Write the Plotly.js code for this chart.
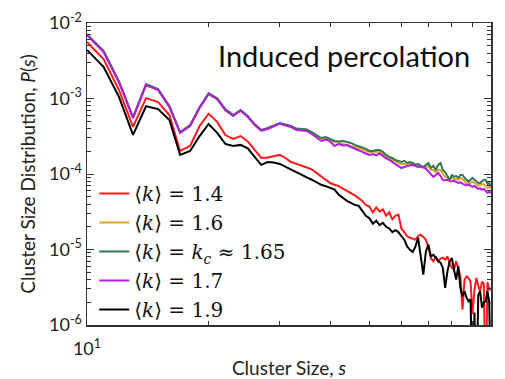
<!DOCTYPE html>
<html>
<head>
<meta charset="utf-8">
<script src="https://cdn.plot.ly/plotly-3.0.1.min.js"></script>
<style>html,body{margin:0;padding:0;background:#fff;}#chart{width:505px;height:379px;}</style>
</head>
<body>
<div id="chart"></div>
<script>
// Cluster sizes s
const clusterSize = [10,11,12,13,14,15,16,17,18,19,20,21,22,23,24,25,26,27,28,29,30,31,32,33,34,35,36,37,38,39,40,41,42,43,44,45,46,47,48,49,50,51,52,53,54,55,56,57,58,59,60,61,62,63,64,65,66,67,68,69,70,71,72,73,74,75,76,77,78,79,80,81,82,83,84,85,86,87,88,89,90,91,92,93,94,95,96,97,98,99,100];

// P(s) for <k> = 1.4
const pK14 = [5.6e-3,3.3e-3,1.29e-3,4.2e-4,1.01e-3,8.96e-4,6.0e-4,2.02e-4,2.35e-4,4.32e-4,
  6.3e-4,4.9e-4,3.28e-4,2.91e-4,3.18e-4,2.7e-4,2.08e-4,1.63e-4,1.65e-4,1.70e-4,
  1.79e-4,1.63e-4,1.44e-4,1.36e-4,1.30e-4,1.22e-4,1.15e-4,1.03e-4,9.4e-5,8.4e-5,
  7.6e-5,7.2e-5,6.9e-5,6.4e-5,6.0e-5,5.6e-5,5.2e-5,4.8e-5,4.4e-5,3.9e-5,
  3.7e-5,3.1e-5,3.6e-5,3.2e-5,3.4e-5,2.8e-5,3.1e-5,2.5e-5,2.8e-5,2.9e-5,
  1.9e-5,1.7e-5,1.5e-5,1.43e-5,1.39e-5,1.35e-5,1.5e-5,1.57e-5,1.47e-5,1.35e-5,
  1.06e-5,7.6e-6,7.0e-6,8.1e-6,7.0e-6,7.6e-6,7.8e-6,7.3e-6,8.1e-6,6.5e-6,
  5.75e-6,5.4e-6,7.0e-6,5.4e-6,4.4e-6,1.6e-6,4.0e-6,4.4e-6,4.2e-6,3.75e-6,
  1.4e-6,2.9e-6,4.2e-6,3.3e-6,2.8e-6,3.75e-6,3.5e-6,1e-7,3.7e-6,2.9e-6,
  3.1e-6];

// P(s) for <k> = 1.6
const pK16 = [7.0e-3,4.16e-3,1.67e-3,5.6e-4,1.53e-3,1.31e-3,7.8e-4,3.55e-4,4.39e-4,7.58e-4,
  1.16e-3,9.97e-4,7.14e-4,5.94e-4,6.92e-4,5.76e-4,4.52e-4,3.76e-4,4.0e-4,4.32e-4,
  4.66e-4,4.46e-4,4.25e-4,3.94e-4,3.94e-4,3.83e-4,3.5e-4,3.18e-4,2.95e-4,3.0e-4,
  2.82e-4,2.66e-4,2.58e-4,2.50e-4,2.43e-4,2.35e-4,2.28e-4,2.21e-4,2.11e-4,2.02e-4,
  1.96e-4,1.96e-4,1.99e-4,1.96e-4,1.84e-4,1.74e-4,1.63e-4,1.53e-4,1.49e-4,1.40e-4,
  1.36e-4,1.36e-4,1.32e-4,1.36e-4,1.32e-4,1.28e-4,1.28e-4,1.24e-4,1.20e-4,1.24e-4,
  1.28e-4,1.13e-4,1.13e-4,1.06e-4,1.13e-4,1.13e-4,1.0e-4,9.2e-5,8.9e-5,8.4e-5,
  8.9e-5,8.6e-5,8.6e-5,8.4e-5,8.9e-5,8.4e-5,8.1e-5,7.4e-5,7.2e-5,7.6e-5,
  7.9e-5,7.6e-5,7.2e-5,7.0e-5,7.2e-5,7.4e-5,7.2e-5,7.0e-5,6.55e-5,6.75e-5,
  6.4e-5];

// P(s) for <k> = k_c ~ 1.65
const pKc = [7.1e-3,4.23e-3,1.69e-3,5.68e-4,1.55e-3,1.33e-3,7.94e-4,3.6e-4,4.46e-4,7.7e-4,
  1.18e-3,1.01e-3,7.25e-4,6.03e-4,7.03e-4,5.85e-4,4.59e-4,3.83e-4,4.07e-4,4.39e-4,
  4.73e-4,4.52e-4,4.32e-4,4.0e-4,3.94e-4,3.88e-4,3.6e-4,3.28e-4,3.0e-4,3.09e-4,
  2.91e-4,2.74e-4,2.70e-4,2.74e-4,2.66e-4,2.58e-4,2.43e-4,2.35e-4,2.24e-4,2.15e-4,
  2.02e-4,2.02e-4,2.08e-4,2.08e-4,1.96e-4,1.79e-4,1.68e-4,1.63e-4,1.53e-4,1.49e-4,
  1.44e-4,1.49e-4,1.40e-4,1.44e-4,1.40e-4,1.32e-4,1.36e-4,1.28e-4,1.24e-4,1.32e-4,
  1.40e-4,1.20e-4,1.28e-4,1.13e-4,1.32e-4,1.40e-4,1.13e-4,1.06e-4,9.4e-5,8.4e-5,
  9.7e-5,9.2e-5,9.4e-5,8.9e-5,9.7e-5,9.7e-5,8.9e-5,8.4e-5,7.9e-5,8.4e-5,
  8.9e-5,8.4e-5,7.9e-5,7.6e-5,7.6e-5,8.1e-5,8.4e-5,8.4e-5,7.4e-5,7.6e-5,
  6.9e-5];

// P(s) for <k> = 1.7
const pK17 = [6.9e-3,4.1e-3,1.64e-3,5.5e-4,1.5e-3,1.29e-3,7.7e-4,3.5e-4,4.3e-4,7.5e-4,
  1.14e-3,9.8e-4,7.0e-4,5.85e-4,6.9e-4,5.7e-4,4.45e-4,3.74e-4,3.94e-4,4.32e-4,
  4.66e-4,4.39e-4,4.19e-4,3.83e-4,3.76e-4,3.71e-4,3.39e-4,3.0e-4,2.74e-4,2.87e-4,
  2.68e-4,2.35e-4,2.50e-4,2.39e-4,2.42e-4,2.28e-4,2.15e-4,2.05e-4,1.96e-4,1.87e-4,
  1.79e-4,1.84e-4,1.76e-4,1.87e-4,1.73e-4,1.61e-4,1.54e-4,1.44e-4,1.36e-4,1.28e-4,
  1.20e-4,1.24e-4,1.28e-4,1.30e-4,1.32e-4,1.28e-4,1.24e-4,1.26e-4,1.24e-4,1.17e-4,
  1.07e-4,9.7e-5,9.16e-5,9.7e-5,1.03e-4,9.4e-5,8.36e-5,8.23e-5,8.36e-5,8.11e-5,
  7.98e-5,8.11e-5,7.87e-5,7.63e-5,7.75e-5,7.40e-5,7.18e-5,7.07e-5,7.29e-5,6.96e-5,
  6.75e-5,6.96e-5,6.55e-5,6.36e-5,6.45e-5,6.17e-5,6.36e-5,5.98e-5,5.63e-5,5.80e-5,
  5.63e-5];

// P(s) for <k> = 1.9
const pK19 = [4.4e-3,2.6e-3,1.05e-3,3.3e-4,7.9e-4,7.25e-4,5.2e-4,1.79e-4,2.02e-4,3.18e-4,
  4.6e-4,3.5e-4,2.5e-4,2.35e-4,2.43e-4,2.19e-4,1.68e-4,1.32e-4,1.44e-4,1.42e-4,
  1.36e-4,1.24e-4,1.13e-4,1.05e-4,9.7e-5,9.0e-5,8.4e-5,7.75e-5,7.2e-5,6.9e-5,
  6.55e-5,6.2e-5,5.3e-5,4.8e-5,4.4e-5,4.15e-5,3.9e-5,3.8e-5,3.2e-5,2.8e-5,
  2.6e-5,2.2e-5,2.4e-5,2.1e-5,2.26e-5,2.0e-5,1.9e-5,1.7e-5,1.8e-5,1.7e-5,
  1.5e-5,1.35e-5,1.1e-5,9.9e-6,9.3e-6,1.09e-5,1.42e-5,8.5e-6,4.65e-6,9.4e-6,
  1.16e-5,8.1e-6,8.5e-6,7.8e-6,7.0e-6,6.7e-6,5.7e-6,3.1e-6,5.1e-6,6.9e-6,
  7.7e-6,5.4e-6,4.0e-6,6.0e-6,3.1e-6,2.4e-6,2.8e-6,2.3e-6,2.06e-6,2.2e-6,
  1e-7,1.46e-6,1e-7,2.5e-6,2.8e-6,1.7e-6,2.0e-6,2.06e-6,2.8e-6,2.0e-6,
  1e-7];

const seriesNames = ['⟨<i>k</i>⟩ = 1.4','⟨<i>k</i>⟩ = 1.6','⟨<i>k</i>⟩ = <i>k<sub>c</sub></i> ≈ 1.65','⟨<i>k</i>⟩ = 1.7','⟨<i>k</i>⟩ = 1.9'];
const seriesColors = ['#ff1a1a','#e8a030','#2e7a55','#b41ed6','#000000'];
const seriesValues = [pK14, pK16, pKc, pK17, pK19];

const xTickVals = [10, 100];
const xTickText = ['10<sup>1</sup>', '10<sup>2</sup>'];
const xMinorVals = [20,30,40,50,60,70,80,90];
const yTickVals = [1e-6, 1e-5, 1e-4, 1e-3, 1e-2];
const yTickText = ['10<sup>-6</sup>','10<sup>-5</sup>','10<sup>-4</sup>','10<sup>-3</sup>','10<sup>-2</sup>'];
const yMinorVals = [];
for (let e = -6; e < -2; e++) { for (let m = 2; m <= 9; m++) yMinorVals.push(m * Math.pow(10, e)); }

const traces = seriesValues.map((vals, i) => ({
  x: clusterSize, y: vals, type: 'scatter', mode: 'lines',
  name: seriesNames[i], line: {color: seriesColors[i], width: 2}
}));

const sansFont = 'Lato, "Open Sans", sans-serif';
const axisCommon = {
  type: 'log', showgrid: false, zeroline: false, showline: true,
  linecolor: '#333', linewidth: 1.5, mirror: 'ticks',
  ticks: 'inside', ticklen: 7, tickwidth: 1, tickcolor: '#333',
  tickmode: 'array', tickfont: {family: sansFont, size: 18, color: '#222'}
};

const layout = {
  width: 505, height: 379,
  margin: {l: 87, r: 14, t: 23, b: 54},
  paper_bgcolor: '#fff', plot_bgcolor: '#fff',
  showlegend: true,
  legend: {x: 0.018, y: 0.5, xanchor: 'left', yanchor: 'top', bgcolor: 'rgba(0,0,0,0)',
           font: {family: '"DejaVu Serif", serif', size: 20, color: '#111'}},
  xaxis: Object.assign({}, axisCommon, {
    range: [1, 2], tickvals: xTickVals, ticktext: xTickText, ticklabelstandoff: 7,
    minor: {tickmode: 'array', tickvals: xMinorVals, ticks: 'inside', ticklen: 4, tickcolor: '#333', showgrid: false},
    title: {text: 'Cluster Size, <i>s</i>', font: {family: sansFont, size: 19, color: '#222'}, standoff: 13}
  }),
  yaxis: Object.assign({}, axisCommon, {
    range: [-6, -2], tickvals: yTickVals, ticktext: yTickText,
    minor: {tickmode: 'array', tickvals: yMinorVals, ticks: 'inside', ticklen: 4, tickcolor: '#333', showgrid: false},
    title: {text: 'Cluster Size Distribution, <i>P</i>(<i>s</i>)', font: {family: sansFont, size: 19, color: '#222'}, standoff: 8}
  }),
  annotations: [{
    text: 'Induced percolation', xref: 'paper', yref: 'paper', x: 0.635, y: 0.893,
    xanchor: 'center', yanchor: 'middle', showarrow: false,
    font: {family: sansFont, size: 29, color: '#111'}
  }]
};

Plotly.newPlot('chart', traces, layout, {staticPlot: true, displayModeBar: false});
</script>
</body>
</html>
